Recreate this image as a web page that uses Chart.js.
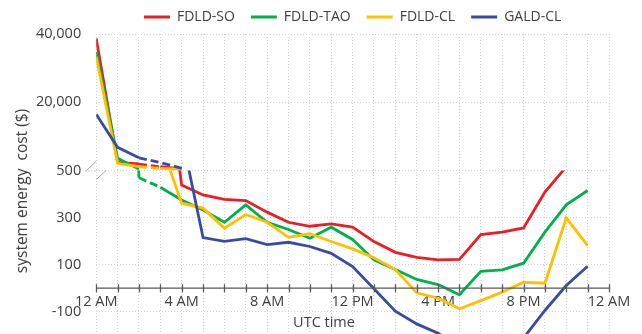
<!DOCTYPE html>
<html>
<head>
<meta charset="utf-8">
<script src="https://cdn.jsdelivr.net/npm/chart.js@4.4.1/dist/chart.umd.min.js"></script>
<style>
  html, body { margin: 0; padding: 0; background: #fff; }
  #wrap { width: 642px; height: 334px; }
</style>
</head>
<body>
<div id="wrap"><canvas id="chart"></canvas></div>
<script>
const hours = [0, 1, 2, 3, 4, 5, 6, 7, 8, 9, 10, 11, 12, 13, 14, 15, 16, 17, 18, 19, 20, 21, 22, 23];
const xTickLabels = ['12 AM', '4 AM', '8 AM', '12 PM', '4 PM', '8 PM', '12 AM'];
const yTickValues = [-100, 100, 300, 500, 20000, 40000];
const yTickLabels = ['-100', '100', '300', '500', '20,000', '40,000'];

const seriesNames = ['FDLD-SO', 'FDLD-TAO', 'FDLD-CL', 'GALD-CL'];
const fdldSO  = [38700, 2400, 1900, 1110, 438, 396, 377, 372, 323, 280, 263, 273, 259, 198, 152, 131, 120, 122, 228, 238, 256, 408, 516, 620];
const fdldTAO = [34800, 3575, 469, 429, 375, 332, 280, 354, 280, 249, 212, 259, 207, 120, 79, 37, 15, -28, 71, 78, 106, 238, 354, 415];
const fdldCL  = [33350, 2110, 1110, 620, 361, 340, 255, 313, 280, 216, 231, 198, 167, 129, 79, -20, -43, -88, -53, -17, 25, 21, 299, 181];
const galdCL  = [16470, 6800, 3720, 2340, 650, 215, 199, 210, 185, 195, 177, 148, 92, -3, -98, -152, -192, -250, -280, -260, -212, -95, 11, 93];
const allSeries = [fdldSO, fdldTAO, fdldCL, galdCL];

const colors = ['#ee1d24', '#00b04f', '#ffc000', '#3a4ca2'];
// hour ranges drawn dashed (start, end)
const dashedSpans = [[2, 3], [2, 3], [2, 3], [2, 4]];

// broken y axis: lower part -195..500, upper part 0..40000
const BREAK = 500, LOW_MIN = -195, UP_MAX = 40000, UP_SHARE = 0.455;
const LAST_BREAK_HOUR = 4;
const LOW_MAX = BREAK + (BREAK - LOW_MIN) * UP_SHARE / (1 - UP_SHARE);
const UP_MIN = -UP_MAX * (1 - UP_SHARE) / UP_SHARE;
const toLow = v => v <= BREAK ? v : BREAK + v / UP_MAX * (LOW_MAX - BREAK);

const FONT = "'Open Sans', sans-serif";
const TEXT = '#404040';

function upperPart(arr) {
  let end = arr.findIndex((v, i) => i > 0 && v <= BREAK);
  end = Math.min(end, LAST_BREAK_HOUR);
  return arr.map((v, i) => i <= end ? v : null);
}

function dashFor(s) {
  return ctx => (ctx.p0DataIndex >= dashedSpans[s][0] && ctx.p0DataIndex < dashedSpans[s][1]) ? [8, 4] : undefined;
}

const datasets = [];
allSeries.forEach((arr, s) => {
  datasets.push({
    label: seriesNames[s], data: arr, yAxisID: 'y', order: 3 - s,
    borderColor: colors[s], backgroundColor: colors[s], borderWidth: 2.8,
    pointRadius: 0, tension: 0, segment: { borderDash: dashFor(s) }
  });
});
allSeries.forEach((arr, s) => {
  datasets.push({
    label: seriesNames[s] + ' (upper)', data: upperPart(arr), yAxisID: 'yUp', order: 7 - s,
    borderColor: colors[s], backgroundColor: colors[s], borderWidth: 2.8,
    pointRadius: 0, tension: 0, spanGaps: false, segment: { borderDash: dashFor(s) }
  });
});

// each half of the broken axis only shows its own datasets
const breakClip = {
  id: 'breakClip',
  beforeDatasetDraw(chart, args) {
    const { ctx, chartArea: a, scales } = chart;
    const yb = scales.y.getPixelForValue(BREAK);
    ctx.save();
    ctx.beginPath();
    if (chart.data.datasets[args.index].yAxisID === 'yUp') {
      ctx.rect(a.left - 5, a.top - 5, a.width + 10, yb - a.top + 5);
    } else {
      ctx.rect(a.left - 5, yb, a.width + 10, a.bottom - yb + 5);
    }
    ctx.clip();
  },
  afterDatasetDraw(chart) {
    chart.ctx.restore();
  }
};

const decorations = {
  id: 'decorations',
  afterDraw(chart) {
    const { ctx, chartArea: a, scales } = chart;
    const y0 = scales.y.getPixelForValue(0);
    const yb = scales.y.getPixelForValue(BREAK);
    ctx.save();
    // x axis line with crossing ticks
    ctx.strokeStyle = '#595959';
    ctx.lineWidth = 1.3;
    ctx.beginPath();
    ctx.moveTo(a.left, y0);
    ctx.lineTo(a.right, y0);
    hours.concat([24]).forEach(h => {
      const x = Math.round(scales.x.getPixelForValue(h)) + 0.5;
      ctx.moveTo(x, y0 - 4);
      ctx.lineTo(x, y0 + 4);
    });
    ctx.stroke();
    // break marks
    ctx.strokeStyle = '#a6a6a6';
    ctx.lineWidth = 1;
    ctx.beginPath();
    ctx.moveTo(a.left - 10, yb); ctx.lineTo(a.left, yb - 9);
    ctx.moveTo(a.left, yb + 9); ctx.lineTo(a.left + 10, yb);
    ctx.stroke();
    ctx.setLineDash([1, 2]);
    ctx.beginPath();
    ctx.moveTo(a.left - 11, yb + 0.5); ctx.lineTo(a.left, yb + 0.5);
    ctx.stroke();
    // axis titles
    ctx.fillStyle = TEXT;
    ctx.textAlign = 'center';
    ctx.textBaseline = 'middle';
    ctx.font = '14.5px ' + FONT;
    ctx.fillText('UTC time', 324, 323);
    ctx.translate(23, 191);
    ctx.rotate(-Math.PI / 2);
    ctx.font = '15.5px ' + FONT;
    ctx.fillText('system energy  cost ($)', 0, 0);
    ctx.restore();
  }
};

new Chart(document.getElementById('chart'), {
  type: 'line',
  data: { labels: hours, datasets: datasets },
  options: {
    responsive: true,
    maintainAspectRatio: false,
    animation: false,
    devicePixelRatio: 1,
    layout: { padding: { top: -6, left: 21, right: 33, bottom: 0 } },
    scales: {
      x: {
        type: 'linear', min: 0, max: 24, position: { y: 0 },
        ticks: {
          stepSize: 1, autoSkip: false, maxRotation: 0, padding: 5,
          font: { family: FONT, size: 14.5 }, color: TEXT,
          callback: v => v % 4 === 0 ? xTickLabels[v / 4] : ''
        },
        grid: { color: '#d4d4d4', lineWidth: 1, drawTicks: false },
        border: { display: false, dash: [1, 2] }
      },
      y: {
        type: 'linear', position: 'left', min: LOW_MIN, max: LOW_MAX,
        afterBuildTicks: s => { s.ticks = yTickValues.map(v => ({ value: toLow(v) })); },
        afterFit: s => { s.paddingTop = 0; s.paddingBottom = 0; },
        ticks: {
          padding: 15, font: { family: FONT, size: 14.5 }, color: TEXT,
          callback: (v, i) => yTickLabels[i]
        },
        grid: { color: '#d4d4d4', lineWidth: 1, drawTicks: false },
        border: { display: false, dash: [1, 2] }
      },
      yUp: { type: 'linear', display: false, min: UP_MIN, max: UP_MAX }
    },
    plugins: {
      legend: {
        position: 'top', fullSize: false,
        labels: {
          usePointStyle: true, pointStyle: 'line', pointStyleWidth: 26, padding: 16,
          font: { family: FONT, size: 14 }, color: TEXT,
          filter: item => item.datasetIndex < 4,
          sort: (a, b) => a.datasetIndex - b.datasetIndex
        }
      },
      tooltip: { enabled: false }
    }
  },
  plugins: [breakClip, decorations]
});
</script>
</body>
</html>
